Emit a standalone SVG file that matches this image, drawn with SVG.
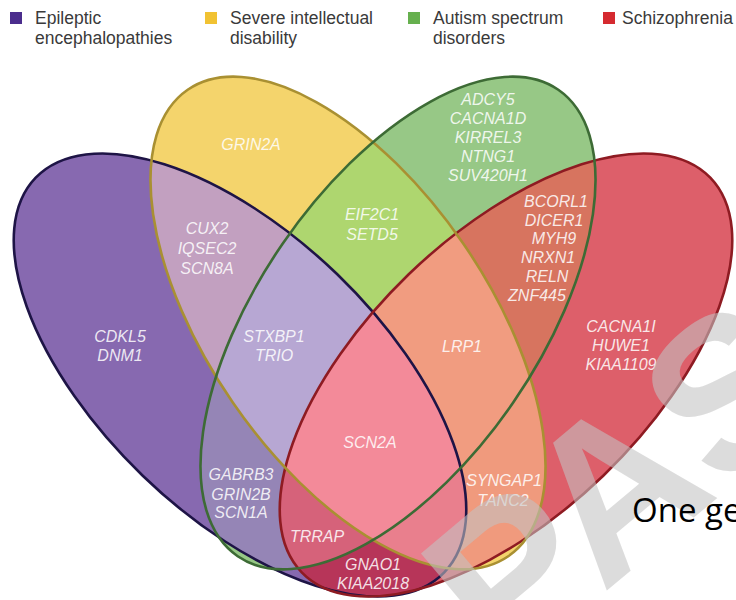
<svg xmlns="http://www.w3.org/2000/svg" xmlns:xlink="http://www.w3.org/1999/xlink" width="736" height="600" viewBox="0 0 736 600">
<style>
.lg{font-family:"Liberation Sans",Arial,sans-serif;font-size:17.5px;fill:#3a3a3a}
.gn{font-family:"Liberation Sans",Arial,sans-serif;font-size:16px;font-style:italic;fill:#ffffff;fill-opacity:0.86;text-anchor:middle}
.ol{fill:none;stroke-width:2.6}
</style>
<defs>
<ellipse id="eP" cx="0" cy="0" rx="284" ry="140" transform="translate(240 375) rotate(44)"/>
<ellipse id="eR" cx="0" cy="0" rx="284" ry="140" transform="translate(506 375) rotate(-44)"/>
<ellipse id="eY" cx="0" cy="0" rx="283" ry="140" transform="translate(348 323) rotate(55.5)"/>
<ellipse id="eG" cx="0" cy="0" rx="283" ry="140" transform="translate(398 323) rotate(-55.5)"/>
<clipPath id="cP"><use href="#eP"/></clipPath>
<clipPath id="cR"><use href="#eR"/></clipPath>
<clipPath id="cY"><use href="#eY"/></clipPath>
<clipPath id="cG"><use href="#eG"/></clipPath>
</defs>
<rect width="736" height="600" fill="#ffffff"/>
<g id="regions">
<use href="#eP" fill="#8769b0"/>
<use href="#eY" fill="#f4d46c"/>
<use href="#eG" fill="#97c886"/>
<use href="#eR" fill="#dd5f6a"/>
<g clip-path="url(#cP)"><use href="#eY" fill="#c2a0c0"/></g>
<g clip-path="url(#cP)"><use href="#eG" fill="#9585b6"/></g>
<g clip-path="url(#cP)"><use href="#eR" fill="#b73559"/></g>
<g clip-path="url(#cY)"><use href="#eG" fill="#aed66f"/></g>
<g clip-path="url(#cY)"><use href="#eR" fill="#f09a7d"/></g>
<g clip-path="url(#cG)"><use href="#eR" fill="#d7745f"/></g>
<g clip-path="url(#cP)"><g clip-path="url(#cY)"><use href="#eG" fill="#b7a7d3"/></g></g>
<g clip-path="url(#cP)"><g clip-path="url(#cY)"><use href="#eR" fill="#e97f8d"/></g></g>
<g clip-path="url(#cP)"><g clip-path="url(#cG)"><use href="#eR" fill="#d6627a"/></g></g>
<g clip-path="url(#cY)"><g clip-path="url(#cG)"><use href="#eR" fill="#f19c80"/></g></g>
<g clip-path="url(#cP)"><g clip-path="url(#cY)"><g clip-path="url(#cG)"><use href="#eR" fill="#f38a99"/></g></g></g>
</g>
<g id="outlines">
<use id="set-epileptic" href="#eP" class="ol" stroke="#1e1446"/>
<use id="set-schizophrenia" href="#eR" class="ol" stroke="#8e1b22"/>
<use id="set-intellectual" href="#eY" class="ol" stroke="#a99032"/>
<use id="set-autism" href="#eG" class="ol" stroke="#3d6b35"/>
</g>
<g id="labels">
<g id="r-P"><text class="gn" x="120" y="342">CDKL5</text><text class="gn" x="120" y="361">DNM1</text></g>
<g id="r-Y"><text class="gn" x="251" y="150">GRIN2A</text></g>
<g id="r-G"><text class="gn" x="488" y="105">ADCY5</text><text class="gn" x="488" y="124">CACNA1D</text><text class="gn" x="488" y="143">KIRREL3</text><text class="gn" x="488" y="162">NTNG1</text><text class="gn" x="488" y="181">SUV420H1</text></g>
<g id="r-R"><text class="gn" x="621" y="332">CACNA1I</text><text class="gn" x="621" y="351">HUWE1</text><text class="gn" x="621" y="370">KIAA1109</text></g>
<g id="r-PY"><text class="gn" x="207" y="234">CUX2</text><text class="gn" x="207" y="254">IQSEC2</text><text class="gn" x="207" y="274">SCN8A</text></g>
<g id="r-YG"><text class="gn" x="372" y="220">EIF2C1</text><text class="gn" x="372" y="240">SETD5</text></g>
<g id="r-GR"><text class="gn" x="556" y="207">BCORL1</text><text class="gn" x="554" y="226">DICER1</text><text class="gn" x="554" y="244">MYH9</text><text class="gn" x="548" y="263">NRXN1</text><text class="gn" x="547" y="282">RELN</text><text class="gn" x="537" y="301">ZNF445</text></g>
<g id="r-PYG"><text class="gn" x="274" y="342">STXBP1</text><text class="gn" x="274" y="361">TRIO</text></g>
<g id="r-YGR"><text class="gn" x="462" y="352">LRP1</text></g>
<g id="r-PYGR"><text class="gn" x="370" y="448">SCN2A</text></g>
<g id="r-PG"><text class="gn" x="241" y="480">GABRB3</text><text class="gn" x="241" y="500">GRIN2B</text><text class="gn" x="241" y="518">SCN1A</text></g>
<g id="r-YR"><text class="gn" x="504" y="486">SYNGAP1</text><text class="gn" x="503" y="506">TANC2</text></g>
<g id="r-PGR"><text class="gn" x="317" y="542">TRRAP</text></g>
<g id="r-PR"><text class="gn" x="373" y="570">GNAO1</text><text class="gn" x="373" y="589">KIAA2018</text></g>
</g>
<g id="legend">
<g id="lg-P"><rect x="10" y="12" width="12" height="12" fill="#4b2d8d"/><text class="lg" x="35" y="24">Epileptic</text><text class="lg" x="35" y="44">encephalopathies</text></g>
<g id="lg-Y"><rect x="205" y="12" width="12" height="12" fill="#f1c232"/><text class="lg" x="230" y="24">Severe intellectual</text><text class="lg" x="230" y="44">disability</text></g>
<g id="lg-G"><rect x="408" y="12" width="12" height="12" fill="#66b04e"/><text class="lg" x="433" y="24">Autism spectrum</text><text class="lg" x="433" y="44">disorders</text></g>
<g id="lg-R"><rect x="603" y="12" width="12" height="12" fill="#d52a30"/><text class="lg" x="622" y="24">Schizophrenia</text></g>
</g>
<text id="watermark" x="0" y="0" transform="translate(505 676) rotate(-40)" font-family="Liberation Sans, Arial, sans-serif" font-weight="bold" font-size="215" fill="#c2c2c2" fill-opacity="0.575">PASS</text>
<text id="caption" x="632" y="522" font-family="Open Sans, Liberation Sans, sans-serif" font-size="33" fill="#000000">One ge</text>
</svg>
